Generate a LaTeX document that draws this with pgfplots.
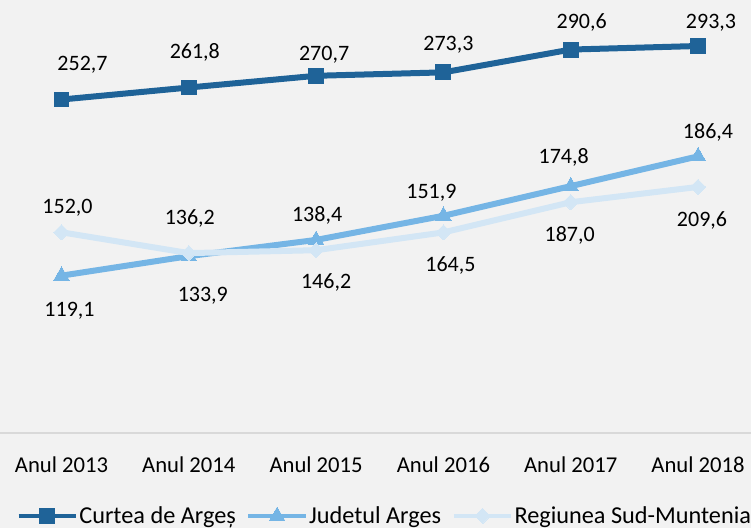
\documentclass[border=0pt]{standalone}
\usepackage{fontspec}
\setmainfont{Carlito}
\usepackage{pgfplots}
\usepackage{pgfplotstable}
\pgfplotsset{compat=1.18}
\definecolor{bg}{HTML}{F2F2F2}
\definecolor{axc}{HTML}{D9D9D9}
\definecolor{cA}{HTML}{1F6398}
\definecolor{cB}{HTML}{75B5E5}
\definecolor{cC}{HTML}{D3E6F5}

\pgfplotstableread{
x y label dx dy
0 252.7 252,7 15.75 25.8
1 261.8 261,8 4.5 26.6
2 270.7 270,7 6 15.6
3 273.3 273,3 3.75 20.5
4 290.6 290,6 8.25 20
5 293.3 293,3 9.75 17.3
}\curtea

\pgfplotstableread{
x y label dx dy
0 119.1 119,1 6 -26
1 133.9 133,9 10.5 -29.4
2 146.2 146,2 7.5 -31.8
3 164.5 164,5 5.25 -37.1
4 187.0 187,0 -0.75 -36.8
5 209.6 209,6 3 -47.9
}\judet

\pgfplotstableread{
x y label dx dy
0 152.0 152,0 4.5 18.75
1 136.2 136,2 0.75 26.1
2 138.4 138,4 0.75 26.2
3 151.9 151,9 -9 30.1
4 174.8 174,8 -5.25 33.75
5 186.4 186,4 7.5 41
}\regiune

\begin{document}
\begin{tikzpicture}
\path[use as bounding box] (0,0) rectangle (563.25pt,396pt);
\fill[bg] (0,0) rectangle (563.25pt,396pt);
\begin{axis}[
  at={(0pt,71.5pt)}, anchor=south west,
  scale only axis, width=563.25pt, height=324.5pt,
  xmin=-0.483, xmax=5.416, ymin=0, ymax=328.2,
  clip=false,
  axis x line=bottom, axis y line=none,
  x axis line style={-, draw=axc, line width=1.5pt},
  ytick=\empty,
  xtick={0,1,2,3,4,5},
  xticklabels={Anul 2013, Anul 2014, Anul 2015, Anul 2016, Anul 2017, Anul 2018},
  major tick length=0pt,
  xticklabel style={anchor=center, yshift=-24pt, font=\fontsize{17}{20}\selectfont, text=black},
  legend style={at={(0.512,-0.1925)}, anchor=center, draw=none, fill=none,
    legend columns=3, font=\fontsize{18.2}{21}\selectfont,
    /tikz/every even column/.append style={column sep=7pt},
    nodes={inner sep=1pt}},
  legend image code/.code={\draw[mark repeat=2, mark phase=2, #1] plot coordinates {(0pt,0pt) (21.5pt,0pt) (43pt,0pt)};},
  legend image post style={line width=3pt},
  nodes near coords, point meta=explicit symbolic,
  visualization depends on={\thisrow{dx}\as\dx},
  visualization depends on={\thisrow{dy}\as\dy},
  every node near coord/.append style={anchor=center, xshift=\dx pt, yshift=\dy pt, font=\fontsize{16.5}{19}\selectfont, text=black},
]
\addplot[cA, line width=4.5pt, mark=square*, mark size=5.6pt, mark options={solid, line width=0pt}]
  table[x=x, y=y, meta=label]{\curtea};
\addlegendentry{Curtea de Argeș}
\addplot[cB, line width=4.5pt, mark=triangle*, mark size=6.6pt, mark options={solid, line width=0pt}]
  table[x=x, y=y, meta=label]{\judet};
\addlegendentry{Judetul Arges}
\addplot[cC, line width=4.5pt, mark=square*, mark size=4pt, mark options={solid, rotate=45, line width=0pt}]
  table[x=x, y=y, meta=label]{\regiune};
\addlegendentry{Regiunea Sud-Muntenia}
\end{axis}
\end{tikzpicture}
\end{document}
